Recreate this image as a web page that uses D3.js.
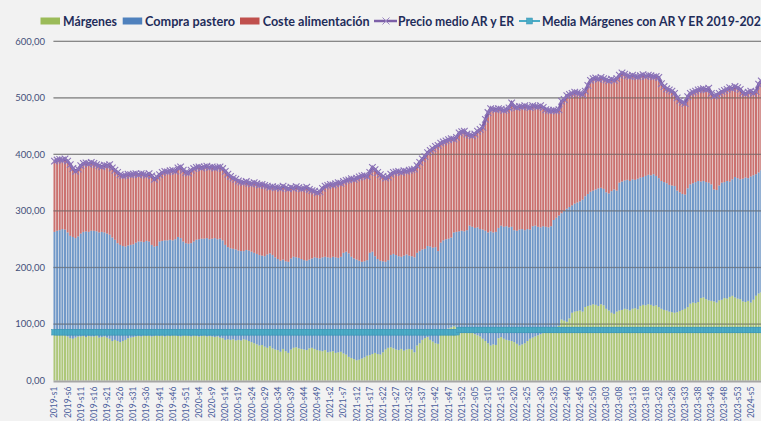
<!DOCTYPE html>
<html>
<head>
<meta charset="utf-8">
<script src="https://cdn.jsdelivr.net/npm/d3@7"></script>
<style>
  html, body { margin: 0; padding: 0; background: #f2f2f2; overflow: hidden; }
  svg { display: block; }
  .legend-text { font-family: Lato, "DejaVu Sans", sans-serif; font-weight: 700; font-size: 13px; fill: #1f2d5a; }
  .y-label { font-family: Lato, sans-serif; font-size: 9.5px; fill: #44507a; }
  .x-label { font-family: Lato, sans-serif; font-size: 8.5px; fill: #4a5e9c; }
</style>
</head>
<body>
<div id="chart"></div>
<script>
// Weeks: year, number of weeks shown, zero padded labels
const yearWeeks = [
  {year: 2019, weeks: 52, pad: false},
  {year: 2020, weeks: 52, pad: false},
  {year: 2021, weeks: 52, pad: false},
  {year: 2022, weeks: 52, pad: true},
  {year: 2023, weeks: 53, pad: true},
  {year: 2024, weeks: 9, pad: false}
]
const weeks = []
yearWeeks.forEach(function(y) {
  for (let w = 1; w <= y.weeks; w++) {
    weeks.push(y.year + "-s" + (y.pad && w < 10 ? "0" + w : w))
  }
})

// Series (EUR/t), one value per week
const margenes = [
  82,83,81,82,80,78,75,74,76,78, 78,79,77,79,78,78,80,76,77,78,
  76,74,70,72,70,68,70,72,75,76, 77,78,79,78,80,79,80,78,79,80,
  79,80,78,80,79,81,80,79,78,80, 80,79,78,80,79,78,79,80,78,79,
  78,77,78,76,75,72,73,72,73,71, 72,71,73,72,70,68,66,64,62,63,
  60,58,61,57,55,54,51,56,52,49, 55,58,59,57,56,55,54,57,58,56,
  54,53,52,54,50,51,52,49,50,51, 48,46,42,40,38,36,37,39,41,44,
  45,47,49,47,46,50,55,58,59,57, 55,54,56,53,55,56,55,50,62,66,
  72,75,77,72,69,66,65,82,86,90, 92,94,96,95,93,90,92,89,88,85,
  82,80,78,74,70,66,62,64,63,75, 77,74,72,71,70,68,65,62,64,66,
  70,74,76,78,80,82,84,86,88,89, 92,95,97,108,106,104,110,120,122,123,
  124,122,130,132,133,135,134,132,135,133, 127,124,120,118,122,124,125,127,126,124,
  127,128,126,132,134,133,135,134,132,133, 130,127,125,124,122,121,120,121,123,125,
  127,130,136,138,137,139,146,147,144,142, 141,140,138,142,143,146,145,148,150,147,
  145,144,140,139,141,138,143,150,154,156
]
const compraPastero = [
  181,182,185,186,187,184,181,180,176,177, 182,184,187,184,187,187,184,186,186,184,
  184,184,183,177,173,172,168,165,164,164, 164,166,167,168,165,168,166,162,158,158,
  167,167,170,168,170,167,170,175,174,166, 163,163,165,166,170,172,172,171,174,171,
  173,175,172,175,173,168,163,162,160,161, 158,158,156,159,160,160,160,160,160,158,
  160,165,164,165,163,161,161,158,159,161, 161,161,159,160,159,158,158,157,158,162,
  163,163,166,165,168,166,167,169,167,168, 178,182,183,179,178,178,175,171,170,169,
  181,181,171,168,166,161,155,155,163,167, 167,166,163,168,168,165,165,168,164,163,
  160,158,161,165,166,170,164,162,162,160, 159,159,166,168,171,175,172,177,186,187,
  188,191,190,193,195,196,202,198,200,195, 197,198,201,200,202,198,200,205,204,200,
  198,193,197,196,192,189,189,186,183,184, 192,193,195,188,194,200,197,190,191,192,
  193,198,196,198,201,201,204,208,206,206, 206,207,215,220,214,226,227,227,229,229,
  229,227,231,227,226,229,229,229,233,229, 228,226,226,225,224,224,224,215,210,205,
  202,210,211,211,214,214,206,206,207,208, 206,198,199,203,207,205,208,204,206,213,
  213,212,217,220,217,223,220,215,214,216
]
const costeAlimentacion = [
  125,125,125,122,125,126,126,121,118,119, 120,121,121,120,121,119,118,118,115,119,
  120,124,123,123,125,124,124,126,126,124, 124,122,118,120,120,116,120,122,119,122,
  118,121,122,121,122,124,120,122,126,126, 125,125,129,129,128,128,125,127,127,127,
  127,124,127,127,127,130,129,127,125,124, 123,122,121,121,119,120,124,124,124,126,
  125,121,117,121,123,127,128,130,130,129, 126,121,125,124,124,127,130,124,120,117,
  115,118,122,125,127,130,127,130,133,130, 126,126,130,138,140,144,148,152,152,148,
  142,149,153,153,152,150,148,147,143,144, 147,150,149,150,147,151,153,156,154,157,
  160,163,165,170,175,178,187,176,174,174, 175,175,165,167,174,175,177,170,160,161,
  166,170,176,181,197,212,217,218,216,211, 206,206,206,211,219,218,218,218,216,220,
  216,216,213,211,212,215,210,207,207,204, 194,189,187,198,197,200,199,198,197,194,
  191,186,186,192,197,198,197,193,195,195, 199,199,198,193,198,190,192,188,184,185,
  184,183,180,180,181,176,176,176,172,176, 178,172,169,167,168,167,164,164,162,162,
  161,162,161,161,161,161,163,163,163,167, 161,165,168,163,161,162,162,166,160,160,
  160,159,152,148,152,151,145,146,156,158
]
const precioMedio = [
  388,390,391,390,392,388,382,375,370,374, 380,384,385,383,386,384,382,380,378,381,
  380,382,376,372,368,364,362,363,365,364, 365,366,364,366,365,363,366,362,356,360,
  364,368,370,369,371,372,370,376,378,372, 368,367,372,375,377,378,376,378,379,377,
  378,376,377,378,375,370,365,361,358,356, 353,351,350,352,349,348,350,348,346,347,
  345,344,342,343,341,342,340,344,341,339, 342,340,343,341,339,340,342,338,336,335,
  332,334,340,344,345,347,346,348,350,349, 352,354,355,357,356,358,360,362,363,361,
  368,377,373,368,364,361,358,360,365,368, 369,370,368,371,370,372,373,374,380,386,
  392,396,403,407,410,414,416,420,422,424, 426,428,427,430,438,440,441,436,434,433,
  436,441,444,448,462,474,481,480,479,481, 480,478,479,482,491,484,483,485,484,486,
  484,483,486,485,484,486,483,479,478,477, 478,477,479,494,497,504,506,508,510,509,
  508,506,512,522,531,534,535,533,536,534, 532,530,533,531,534,540,544,542,539,538,
  540,538,537,539,541,538,540,539,537,538, 536,525,520,516,514,512,508,500,495,492,
  490,502,508,510,512,514,515,516,514,517, 508,503,505,508,511,513,515,518,516,520,
  518,515,509,507,510,512,508,511,524,530
]
// flat reference line, two levels
const mediaMargenes = Array(154).fill(85.5).concat(Array(116).fill(89.5))

const yTicks = [0, 100, 200, 300, 400, 500, 600]

const seriesNames = ["Márgenes", "Compra pastero", "Coste alimentación"]
const seriesColors = ["#9bbb59", "#4f81bd", "#c0504d"]
const priceColor = "#7d60a8"
const mediaColor = "#4bacc6"

// Dimensions
const width = 761
const height = 421
const plotLeft = 53.5
const step = 2.625
const plotTop = 41.3
const plotBottom = 380.6

const svg = d3.select("#chart")
  .append("svg")
    .attr("width", width)
    .attr("height", height)

const x = d3.scaleBand()
  .domain(weeks)
  .range([plotLeft, plotLeft + weeks.length * step])
  .paddingInner(0.25)

const y = d3.scaleLinear()
  .domain([0, 600])
  .range([plotBottom, plotTop])

// stacked data
const rows = weeks.map(function(w, i) {
  return {week: w, m: margenes[i], c: compraPastero[i], a: costeAlimentacion[i]}
})
const stacked = d3.stack().keys(["m", "c", "a"])(rows)

// light gridlines behind
svg.append("g")
  .selectAll("line")
  .data(yTicks.slice(1))
  .enter().append("line")
    .attr("x1", plotLeft)
    .attr("x2", width)
    .attr("y1", function(d) { return y(d) })
    .attr("y2", function(d) { return y(d) })
    .attr("stroke", "#a6a6a6")
    .attr("stroke-width", 1.3)

svg.append("g")
  .selectAll("g")
  .data(stacked)
  .enter().append("g")
    .attr("fill", function(d, i) { return seriesColors[i] })
    .attr("fill-opacity", 0.8)
  .selectAll("rect")
  .data(function(d) { return d })
  .enter().append("rect")
    .attr("x", function(d) { return x(d.data.week) })
    .attr("width", x.bandwidth())
    .attr("y", function(d) { return y(d[1]) })
    .attr("height", function(d) { return y(d[0]) - y(d[1]) })

// gridlines seen through the bars
svg.append("g")
  .selectAll("line")
  .data(yTicks.slice(1))
  .enter().append("line")
    .attr("x1", plotLeft)
    .attr("x2", width)
    .attr("y1", function(d) { return y(d) })
    .attr("y2", function(d) { return y(d) })
    .attr("stroke", "#707070")
    .attr("stroke-opacity", 0.55)
    .attr("stroke-width", 1.2)

// bottom axis line
svg.append("line")
  .attr("x1", plotLeft)
  .attr("x2", width)
  .attr("y1", plotBottom + 0.8)
  .attr("y2", plotBottom + 0.8)
  .attr("stroke", "#a6a6a6")
  .attr("stroke-width", 2)

const cx = function(i) { return x(weeks[i]) + x.bandwidth() / 2 }

// media margenes line with square markers
svg.append("path")
  .datum(mediaMargenes)
  .attr("fill", "none")
  .attr("stroke", mediaColor)
  .attr("stroke-width", 2)
  .attr("d", d3.line().x(function(d, i) { return cx(i) }).y(function(d) { return y(d) }))

svg.append("g")
  .selectAll("rect")
  .data(mediaMargenes)
  .enter().append("rect")
    .attr("x", function(d, i) { return cx(i) - 2.8 })
    .attr("y", function(d) { return y(d) - 2.8 })
    .attr("width", 5.6)
    .attr("height", 5.6)
    .attr("fill", mediaColor)
    .attr("stroke", "#3d93b4")
    .attr("stroke-width", 0.5)

// precio medio line with x markers
svg.append("path")
  .datum(precioMedio)
  .attr("fill", "none")
  .attr("stroke", priceColor)
  .attr("stroke-width", 3)
  .attr("d", d3.line().x(function(d, i) { return cx(i) }).y(function(d) { return y(d) }))

svg.append("g")
  .selectAll("path")
  .data(precioMedio)
  .enter().append("path")
    .attr("d", function(d, i) {
      const px = cx(i), py = y(d), s = 3.3
      return "M" + (px - s) + "," + (py - s) + "L" + (px + s) + "," + (py + s) +
        "M" + (px - s) + "," + (py + s) + "L" + (px + s) + "," + (py - s)
    })
    .attr("stroke", "#8c74b8")
    .attr("stroke-width", 1.1)
    .attr("fill", "none")

// y axis labels
svg.append("g")
  .selectAll("text")
  .data(yTicks)
  .enter().append("text")
    .attr("class", "y-label")
    .attr("x", 45)
    .attr("y", function(d) { return y(d) })
    .attr("dy", "0.35em")
    .attr("text-anchor", "end")
    .text(function(d) { return d3.format(".2f")(d).replace(".", ",") })

// x labels, every 5 weeks
svg.append("g")
  .selectAll("text")
  .data(weeks.filter(function(d, i) { return i % 5 === 0 }))
  .enter().append("text")
    .attr("class", "x-label")
    .attr("transform", function(d) {
      return "translate(" + (x(d) + x.bandwidth() / 2) + "," + (plotBottom + 6) + ") rotate(-90)"
    })
    .attr("dy", "0.35em")
    .attr("text-anchor", "end")
    .text(function(d) { return d })

// legend
const legendY = 21
const legend = svg.append("g")
const boxes = [
  {x: 40.5, tx: 63, w: 54},
  {x: 122.7, tx: 145, w: 90},
  {x: 240, tx: 262.7, w: 107}
]
boxes.forEach(function(b, i) {
  legend.append("rect")
    .attr("x", b.x).attr("y", legendY - 3.5)
    .attr("width", 19.5).attr("height", 7)
    .attr("fill", seriesColors[i])
  legend.append("text")
    .attr("class", "legend-text")
    .attr("x", b.tx).attr("y", legendY + 4.5)
    .attr("textLength", b.w)
    .attr("lengthAdjust", "spacingAndGlyphs")
    .text(seriesNames[i])
})

legend.append("line")
  .attr("x1", 374).attr("x2", 397).attr("y1", legendY).attr("y2", legendY)
  .attr("stroke", priceColor).attr("stroke-width", 2.5)
legend.append("path")
  .attr("d", "M382.5,17.5L389.5,24.5M382.5,24.5L389.5,17.5")
  .attr("stroke", "#9a85c0").attr("stroke-width", 1)
legend.append("text")
  .attr("class", "legend-text")
  .attr("x", 398).attr("y", legendY + 4.5)
  .attr("textLength", 116)
  .attr("lengthAdjust", "spacingAndGlyphs")
  .text("Precio medio AR y ER")

legend.append("line")
  .attr("x1", 519).attr("x2", 540).attr("y1", legendY).attr("y2", legendY)
  .attr("stroke", mediaColor).attr("stroke-width", 2)
legend.append("rect")
  .attr("x", 526.5).attr("y", legendY - 3).attr("width", 6).attr("height", 6)
  .attr("fill", mediaColor).attr("stroke", "#3d93b4").attr("stroke-width", 0.5)
legend.append("text")
  .attr("class", "legend-text")
  .attr("x", 542).attr("y", legendY + 4.5)
  .attr("textLength", 226)
  .attr("lengthAdjust", "spacingAndGlyphs")
  .text("Media Márgenes con AR Y ER 2019-2023")
</script>
</body>
</html>
